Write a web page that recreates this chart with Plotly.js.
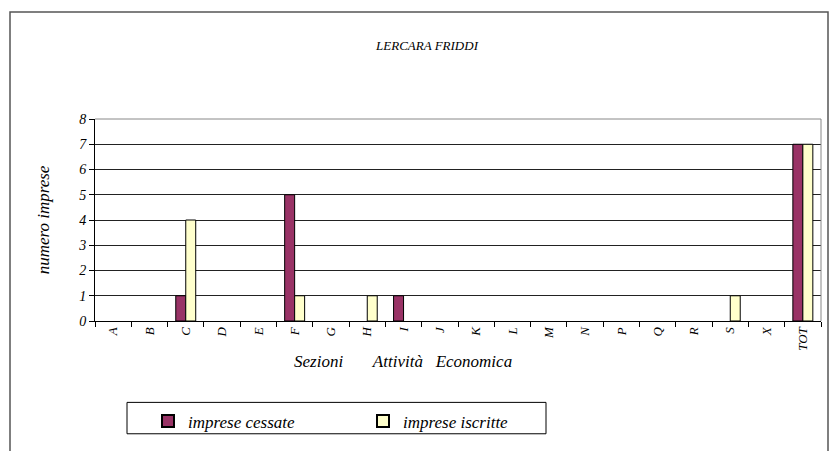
<!DOCTYPE html>
<html>
<head>
<meta charset="utf-8">
<script src="https://cdn.plot.ly/plotly-3.0.1.min.js"></script>
<style>html,body{margin:0;padding:0;background:#fff;}#chart{width:836px;height:451px;}</style>
</head>
<body>
<div id="chart"></div>
<script>
const categories = ["A","B","C","D","E","F","G","H","I","J","K","L","M","N","P","Q","R","S","X","TOT"];
const cessate   = [0,0,1,0,0,5,0,0,1,0,0,0,0,0,0,0,0,0,0,7];
const iscritte  = [0,0,4,0,0,1,0,1,0,0,0,0,0,0,0,0,0,1,0,7];
const seriesNames = ["imprese cessate","imprese iscritte"];
const yTicks = [0,1,2,3,4,5,6,7,8];

function serif(size) { return {family: "Times New Roman, Liberation Serif, serif", size: size, color: "#000", style: "italic"}; }
const L = 95, R = 15, T = 119, B = 126;
const pw = 836 - L - R, ph = 451 - T - B;
const px = v => (v - L) / pw;
const py = v => (451 - B - v) / ph;
const hideZero = arr => arr.map(v => v === 0 ? null : v);

const traces = [
  {type:"bar", name:seriesNames[0], x:categories, y:hideZero(cessate),
   marker:{color:"#993366", line:{color:"#000", width:1}}},
  {type:"bar", name:seriesNames[1], x:categories, y:hideZero(iscritte),
   marker:{color:"#FFFFCC", line:{color:"#000", width:1}}}
];

const layout = {
  width:836, height:451,
  margin:{l:L, r:R, t:T, b:B, pad:0},
  paper_bgcolor:"#fff", plot_bgcolor:"#fff",
  barmode:"group", bargap:0.45, bargroupgap:0,
  title:{text:"LERCARA FRIDDI", font:serif(13),
         x:427/836, xref:"container", xanchor:"center", y:1-45/451, yref:"container", yanchor:"middle"},
  xaxis:{type:"category", tickangle:-90, tickson:"boundaries", ticks:"outside", ticklen:5,
         tickcolor:"#000", showline:true, linecolor:"#000", linewidth:1, showgrid:false,
         tickfont:serif(13), fixedrange:true},
  yaxis:{range:[0,8], tickvals:yTicks, ticks:"outside", ticklen:5, tickcolor:"#000",
         showline:true, linecolor:"#000", linewidth:1, showgrid:true, gridcolor:"#222", gridwidth:1,
         zeroline:false, tickfont:serif(14),
         title:{text:"numero imprese", font:serif(17), standoff:24}},
  showlegend:true,
  legend:{orientation:"h", x:px(148), xanchor:"left", y:py(409), yanchor:"top",
          borderwidth:0, bgcolor:"rgba(0,0,0,0)", entrywidth:170, entrywidthmode:"pixels",
          font:serif(17), itemsizing:"constant"},
  annotations:[
    {text:"Sezioni\u00a0\u00a0\u00a0\u00a0\u00a0\u00a0\u00a0Attività\u00a0\u00a0\u00a0Economica", xref:"paper", yref:"paper",
     x:px(403), y:py(366), xanchor:"center", yanchor:"middle", showarrow:false, font:serif(17)}
  ],
  shapes:[
    {type:"rect", xref:"paper", yref:"paper", x0:px(10), x1:px(828), y0:py(460), y1:py(10),
     line:{color:"#555", width:1.5}, fillcolor:"rgba(0,0,0,0)", layer:"below"},
    {type:"rect", xref:"paper", yref:"paper", x0:px(127), x1:px(546), y0:py(440), y1:py(408),
     line:{color:"#000", width:1}, fillcolor:"rgba(0,0,0,0)", layer:"below"},
    {type:"line", xref:"paper", yref:"paper", x0:1, x1:1, y0:0, y1:1, line:{color:"#888", width:1}},
    {type:"line", xref:"paper", yref:"paper", x0:0, x1:1, y0:1, y1:1, line:{color:"#888", width:1}}
  ]
};

Plotly.newPlot("chart", traces, layout, {displayModeBar:false, staticPlot:true});
</script>
</body>
</html>
